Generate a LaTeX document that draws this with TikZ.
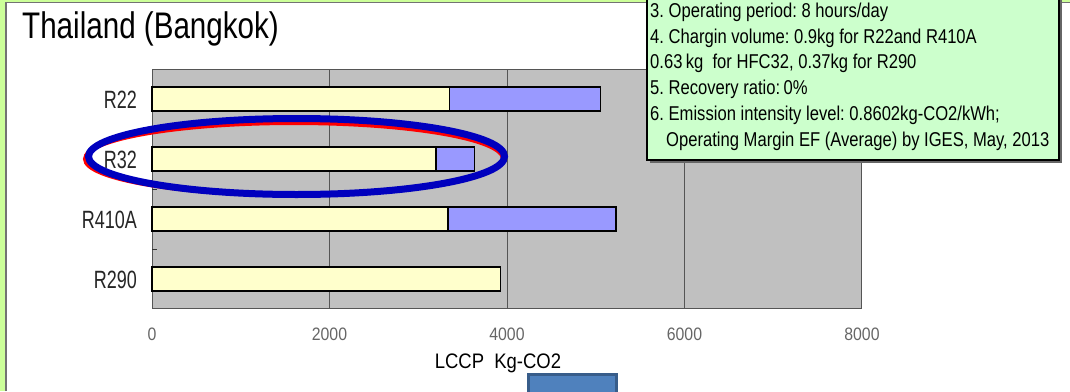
\documentclass[tikz,border=0pt]{standalone}
\usepackage{fontspec}
\setmainfont{Liberation Sans}
\newfontfamily\ttlfont[FakeStretch=0.80]{Liberation Sans}
\newfontfamily\catfont[FakeStretch=0.72]{Liberation Sans}
\newfontfamily\notefont[FakeStretch=0.83]{Liberation Sans}
\newfontfamily\tickfont[FakeStretch=0.88]{Liberation Sans}
\usetikzlibrary{positioning}
\frenchspacing
\definecolor{framegreen}{RGB}{204,255,153}
\definecolor{notegreen}{RGB}{204,255,204}
\definecolor{plotgray}{RGB}{192,192,192}
\definecolor{gridgray}{RGB}{85,85,85}
\definecolor{baryellow}{RGB}{255,255,204}
\definecolor{barblue}{RGB}{153,153,255}
\definecolor{ringblue}{RGB}{0,0,190}
\definecolor{btnblue}{RGB}{79,129,189}
\definecolor{btnedge}{RGB}{56,93,138}
\tikzset{
  ttl/.style={anchor=base west, inner sep=0pt, font=\ttlfont\fontsize{37}{40}\selectfont},
  catlbl/.style={anchor=base east, inner sep=0pt, text=black!85, font=\catfont\fontsize{25}{28}\selectfont},
  ticklbl/.style={inner sep=0pt, text=black!60, font=\tickfont\fontsize{18}{20}\selectfont},
  axlbl/.style={anchor=base, inner sep=0pt, font=\tickfont\fontsize{21}{24}\selectfont},
  notetxt/.style={anchor=base west, inner sep=0pt, font=\notefont\fontsize{20}{24}\selectfont},
  yelbar/.style={draw=black, line width=1.3pt, fill=baryellow},
  blubar/.style={draw=black, line width=1.3pt, fill=barblue},
  gridln/.style={draw=gridgray, line width=0.9pt},
  ring/.style={draw=ringblue, line width=7pt},
  btn/.style={rectangle, draw=btnedge, line width=3pt, fill=btnblue, inner sep=0pt},
}

\begin{document}
\begin{tikzpicture}[x=1pt,y=-1pt]
\clip (0,0) rectangle (1070,391);
\fill[white] (0,0) rectangle (1070,391);

%% slide frame
\fill[framegreen] (0,0) rectangle (1070,2);
\fill[framegreen] (0,0) rectangle (5,391);
\draw[black!55, line width=1.5pt] (6,391) -- (6,2.5) -- (1070,2.5);

\node[ttl] (title) at (22,38) {Thailand (Bangkok)};

%% =====================================================================
%% plot area, x axis scaled to kg-CO2 (0 .. 8000)
%% =====================================================================
\fill[plotgray] (152,69) rectangle (862,308);

\begin{scope}[xshift=152pt, x=0.08875pt]
\draw[gridln] (2000,69) -- (2000,308);
\draw[gridln] (4000,69) -- (4000,308);
\draw[gridln] (6000,69) -- (6000,308);
\draw[draw=gridgray, line width=1pt] (0,69) rectangle (8000,308);
\draw[draw=black!80, line width=1pt] (0,129) -- (55,129);
\draw[draw=black!80, line width=1pt] (0,189) -- (55,189);
\draw[draw=black!80, line width=1pt] (0,249) -- (55,249);

%% bars: running energy (yellow) + refrigerant (blue)
\draw[yelbar] (0,87) rectangle (3350,111);
\draw[blubar] (3350,87) rectangle (5050,111);
\draw[yelbar] (0,147) rectangle (3200,171);
\draw[blubar] (3200,147) rectangle (3630,171);
\draw[yelbar] (0,207) rectangle (3335,231);
\draw[blubar] (3335,207) rectangle (5230,231);
\draw[yelbar] (0,267) rectangle (3930,291);

%% tick labels
\node[ticklbl] (t0) at (0,334) {0};
\node[ticklbl] (t2000) at (2000,334) {2000};
\node[ticklbl] (t4000) at (4000,334) {4000};
\node[ticklbl] (t6000) at (6000,334) {6000};
\node[ticklbl] (t8000) at (8000,334) {8000};
\end{scope}

\node[catlbl] (r22) at (137,108) {R22};
\node[catlbl] (r32) at (137,168) {R32};
\node[catlbl] (r410a) at (137,228) {R410A};
\node[catlbl] (r290) at (137,288) {R290};

\node[axlbl] (xtitle) at (498,368) {LCCP\ \ Kg-CO2};

%% highlight round R32
\draw[red, line width=4pt] (294,159) ellipse [x radius=209, y radius=36];
\draw[ring] (296.5,156.5) ellipse [x radius=208, y radius=38];

%% =====================================================================
%% conditions note (top right)
%% =====================================================================
\fill[black!60] (650,-10) rectangle (1062,163);
\draw[draw=black, line width=1.5pt, fill=notegreen] (647,-10) rectangle (1059,160);
\node[notetxt] (note1) at (650,17) {3. Operating period: 8 hours/day};
\node[notetxt] (note2) at (650,43) {4. Chargin volume:\ 0.9kg for R22and R410A};
\node[notetxt] (note3) at (650,68) {0.63\,kg\ \ for HFC32, 0.37kg for R290};
\node[notetxt] (note4) at (650,94) {5. Recovery ratio:\,0\%};
\node[notetxt] (note5) at (650,120) {6. Emission intensity level: 0.8602kg-CO2/kWh;};
\node[notetxt] (note6) at (666,146) {Operating Margin EF (Average) by IGES, May, 2013};

%% button stub at the bottom edge
\node[btn, minimum width=88pt, minimum height=40pt, anchor=north west] (nextbtn) at (526.5,372.5) {};

\end{tikzpicture}
\end{document}
